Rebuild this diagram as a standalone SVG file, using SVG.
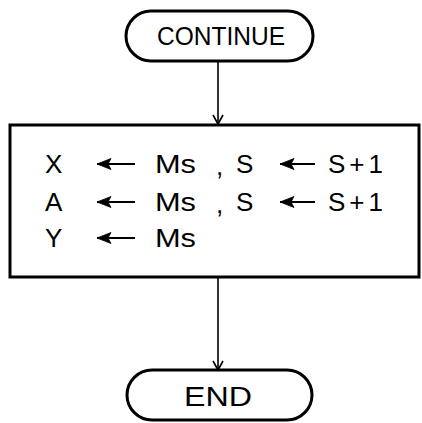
<svg xmlns="http://www.w3.org/2000/svg" width="422" height="423" viewBox="0 0 422 423">
<defs>
<style>
.box{fill:#fff;stroke:#000;stroke-width:3}
.ln{fill:none;stroke:#000;stroke-width:1.6}
.t{font-family:"Liberation Sans",Arial,sans-serif;font-size:26px;fill:#000}
.ta{fill:none;stroke:#000;stroke-width:2.2}
</style>
<marker id="ah" markerWidth="12" markerHeight="12" refX="10" refY="6" orient="auto" markerUnits="userSpaceOnUse">
<path d="M1,1 L10,6 L1,11" fill="none" stroke="#000" stroke-width="1.6"/>
</marker>
<marker id="lh" markerWidth="16" markerHeight="14" refX="1" refY="7" orient="auto" markerUnits="userSpaceOnUse">
<path d="M15,1.5 L1,7 L15,12.5 L12,7 Z" fill="#000" stroke="#000" stroke-width="0.8" stroke-linejoin="round"/>
</marker>
</defs>
<rect width="422" height="423" fill="#fff"/>
<g id="connectors">
<line class="ln" x1="218" y1="61" x2="218" y2="124" marker-end="url(#ah)"/>
<line class="ln" x1="218" y1="277" x2="218" y2="370" marker-end="url(#ah)"/>
</g>
<g id="continue">
<rect class="box" x="126" y="11" width="187" height="50" rx="25"/>
<text class="t" x="221" y="45" text-anchor="middle" textLength="128" lengthAdjust="spacingAndGlyphs" style="font-size:25px">CONTINUE</text>
</g>
<g id="process">
<rect class="box" x="10" y="125" width="409" height="152"/>
<text class="t" x="45" y="173">X</text>
<line class="ta" x1="97" y1="164" x2="135" y2="164" marker-start="url(#lh)"/>
<text class="t" x="155" y="173" textLength="41" lengthAdjust="spacingAndGlyphs">Ms</text>
<text class="t" x="216" y="175">,</text>
<text class="t" x="236" y="173">S</text>
<line class="ta" x1="280" y1="164" x2="315" y2="164" marker-start="url(#lh)"/>
<text class="t" x="328" y="173" textLength="55">S+1</text>
<text class="t" x="45" y="211">A</text>
<line class="ta" x1="97" y1="202" x2="135" y2="202" marker-start="url(#lh)"/>
<text class="t" x="155" y="211" textLength="41" lengthAdjust="spacingAndGlyphs">Ms</text>
<text class="t" x="216" y="213">,</text>
<text class="t" x="236" y="211">S</text>
<line class="ta" x1="280" y1="202" x2="315" y2="202" marker-start="url(#lh)"/>
<text class="t" x="328" y="211" textLength="55">S+1</text>
<text class="t" x="45" y="247">Y</text>
<line class="ta" x1="97" y1="238" x2="135" y2="238" marker-start="url(#lh)"/>
<text class="t" x="155" y="247" textLength="41" lengthAdjust="spacingAndGlyphs">Ms</text>
</g>
<g id="end">
<rect class="box" x="127" y="370" width="185" height="50" rx="25"/>
<text class="t" x="218" y="406" text-anchor="middle" textLength="68" lengthAdjust="spacingAndGlyphs" style="font-size:28px">END</text>
</g>
</svg>
